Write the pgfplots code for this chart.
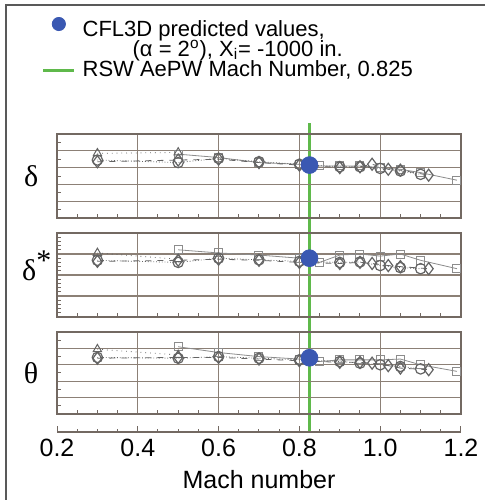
\documentclass[border=0pt]{standalone}
\usepackage{pgfplots}
\pgfplotsset{compat=1.18}
\usepackage{fontspec}
\setmainfont{Liberation Sans}
\newfontfamily\grk{Liberation Serif}
\definecolor{frame}{RGB}{115,105,98}
\definecolor{gridc}{RGB}{140,128,118}
\definecolor{mk}{RGB}{100,100,100}
\definecolor{ln}{RGB}{140,140,140}
\definecolor{cflblue}{RGB}{58,88,178}
\definecolor{rswgreen}{RGB}{95,185,75}

\pgfplotsset{
  panel/.style={
    scale only axis, width=202pt,
    xmin=0.2, xmax=1.2, ymin=0,
    xtick={0.2,0.4,...,1.2}, minor x tick num=3,
    xticklabels={}, yticklabels={},
    xtick pos=bottom, ytick pos=left, tick align=inside,
    major tick length=0pt, minor tick length=2pt,
    grid=major, major grid style={gridc, line width=0.6pt},
    axis line style={frame, line width=0.8pt},
    every tick/.style={frame, line width=0.5pt},
    ylabel style={rotate=-90, anchor=center, font=\grk\fontsize{15}{15}\selectfont},
  },
  circ/.style={mk, densely dotted, line width=0.4pt, mark=o, mark size=2.6pt, mark options={solid, line width=0.6pt}},
  diam/.style={mk, dashed, line width=0.4pt, mark=diamond, mark size=3pt, mark options={solid, line width=0.6pt}},
  squ/.style={ln, line width=0.4pt, mark=square, mark size=2pt, mark options={solid, line width=0.5pt}},
  tri/.style={mk, dotted, line width=0.4pt, mark=triangle, mark size=2.4pt, mark options={solid, line width=0.5pt}},
  cfl/.style={only marks, mark=*, mark size=4.2pt, color=cflblue},
}

\begin{document}
\begin{tikzpicture}
\useasboundingbox (0,0) rectangle (242pt,250pt);
\fill[white] (0,0) rectangle (242pt,250pt);
\draw[gray!70!black, line width=1pt] (3pt,-5pt) -- (3pt,247.5pt) -- (250pt,247.5pt);

% green reference line, over the full height of the panels
\begin{axis}[
  at={(28.5pt,34pt)}, anchor=south west,
  scale only axis, width=202pt, height=154.5pt,
  xmin=0.2, xmax=1.2, ymin=0, ymax=1, hide axis, clip=true]
\addplot[rswgreen, line width=1.3pt, line cap=butt] coordinates {(0.825,0) (0.825,1)};
\end{axis}

% x axis and legend
\begin{axis}[
  at={(28.5pt,34pt)}, anchor=south west,
  scale only axis, width=202pt, height=154.5pt,
  xmin=0.2, xmax=1.2, ymin=0, ymax=1,
  axis x line*=bottom, hide y axis,
  xtick={0.2,0.4,...,1.2}, minor x tick num=3,
  xticklabels={0.2,0.4,0.6,0.8,1.0,1.2},
  tick align=inside, major tick length=3pt, minor tick length=1.5pt,
  axis line style={frame, line width=0.8pt, -},
  every tick/.style={frame, line width=0.5pt},
  /pgf/number format/assume math mode=true,
  ticklabel style={font=\fontsize{12.5}{12.5}\selectfont, inner sep=0pt},
  xticklabel style={yshift=-3.5pt},
  xlabel={Mach number},
  xlabel style={font=\fontsize{12.5}{12.5}\selectfont, yshift=-3pt},
  legend style={at={(axis description cs:-0.037,1.343)}, anchor=north west,
    draw=none, fill=none, row sep=0pt, column sep=3.5pt,
    inner sep=0pt, outer sep=0pt,
    nodes={inner sep=0pt, text height=8pt, text depth=2pt, anchor=base west},
    font=\fontsize{11}{11}\selectfont},
  legend cell align=left,
]
\addlegendimage{cfl, legend image code/.code={\fill[cflblue] (7.75pt,6pt) circle (3.3pt);}}
\addlegendentry{CFL3D predicted values,}
\addlegendimage{empty legend}
\addlegendentry{\hspace{25pt}(α = 2\textsuperscript{o}), X\textsubscript{i}= -1000 in.}
\addlegendimage{rswgreen, line width=1.3pt, legend image code/.code={\draw[rswgreen, line width=1.3pt] (0pt,2.8pt) -- (15.5pt,2.8pt);}}
\addlegendentry{RSW AePW Mach Number, 0.825}
\end{axis}

% delta
\begin{axis}[panel, at={(28.5pt,141pt)}, anchor=south west, height=42pt,
  ymax=5, ytick={0,1,...,5}, minor y tick num=1,
  ylabel={δ}, ylabel style={at={(axis description cs:-0.064,0.5)}}]
\addplot[squ] coordinates {(0.5,3.8) (0.6,3.6) (0.7,3.3) (0.8,3.2) (0.85,3.1) (0.9,3.1) (0.95,3.1) (1.0,3.0) (1.05,2.9) (1.1,2.7) (1.19,2.25)};
\addplot[tri] coordinates {(0.3,3.85) (0.5,3.9)};
\addplot[diam] coordinates {(0.3,3.35) (0.5,3.45) (0.6,3.5) (0.7,3.3) (0.8,3.15) (0.9,3.0) (0.95,3.05) (0.98,3.2) (1.02,2.9) (1.05,2.85) (1.12,2.55)};
\addplot[circ] coordinates {(0.3,3.45) (0.5,3.3) (0.6,3.55) (0.7,3.35) (0.8,3.2) (0.9,3.05) (0.95,3.05) (1.0,2.95) (1.05,2.8) (1.1,2.6)};
\addplot[cfl] coordinates {(0.825,3.15)};
\end{axis}

% delta star
\begin{axis}[panel, at={(28.5pt,91.5pt)}, anchor=south west, height=42pt,
  ymax=4, ytick={0,1,...,4}, minor y tick num=4,
  ylabel={δ\raisebox{0.35em}{*}}, ylabel style={at={(axis description cs:-0.05,0.61)}}]
\addplot[squ] coordinates {(0.5,3.2) (0.6,3.05) (0.7,2.95) (0.8,2.8) (0.85,2.6) (0.9,2.95) (0.95,3.0) (1.0,2.9) (1.05,3.0) (1.1,2.7) (1.19,2.3)};
\addplot[tri] coordinates {(0.3,3.05) (0.5,2.75)};
\addplot[diam] coordinates {(0.3,2.65) (0.5,2.7) (0.6,2.75) (0.7,2.7) (0.8,2.6) (0.9,2.55) (0.95,2.6) (0.98,2.55) (1.02,2.45) (1.05,2.4) (1.12,2.3)};
\addplot[circ] coordinates {(0.3,2.7) (0.5,2.6) (0.6,2.8) (0.7,2.72) (0.8,2.65) (0.9,2.6) (0.95,2.62) (1.0,2.45) (1.05,2.35) (1.1,2.3)};
\addplot[cfl] coordinates {(0.825,2.8)};
\end{axis}

% theta
\begin{axis}[panel, at={(28.5pt,43pt)}, anchor=south west, height=41pt,
  ymax=5, ytick={0,1,...,5}, minor y tick num=1,
  ylabel={θ}, ylabel style={at={(axis description cs:-0.064,0.5)}}]
\addplot[squ] coordinates {(0.5,4.1) (0.6,3.75) (0.7,3.5) (0.8,3.35) (0.85,3.2) (0.9,3.3) (0.95,3.3) (1.0,3.3) (1.05,3.35) (1.1,3.0) (1.19,2.6)};
\addplot[tri] coordinates {(0.3,3.95) (0.5,3.6)};
\addplot[diam] coordinates {(0.3,3.4) (0.5,3.45) (0.6,3.45) (0.7,3.35) (0.8,3.25) (0.9,3.15) (0.95,3.15) (0.98,3.1) (1.02,2.95) (1.05,2.8) (1.12,2.7)};
\addplot[circ] coordinates {(0.3,3.45) (0.5,3.4) (0.6,3.5) (0.7,3.4) (0.8,3.3) (0.9,3.2) (0.95,3.1) (1.0,3.0) (1.05,2.9) (1.1,2.75)};
\addplot[cfl] coordinates {(0.825,3.43)};
\end{axis}
\end{tikzpicture}
\end{document}
